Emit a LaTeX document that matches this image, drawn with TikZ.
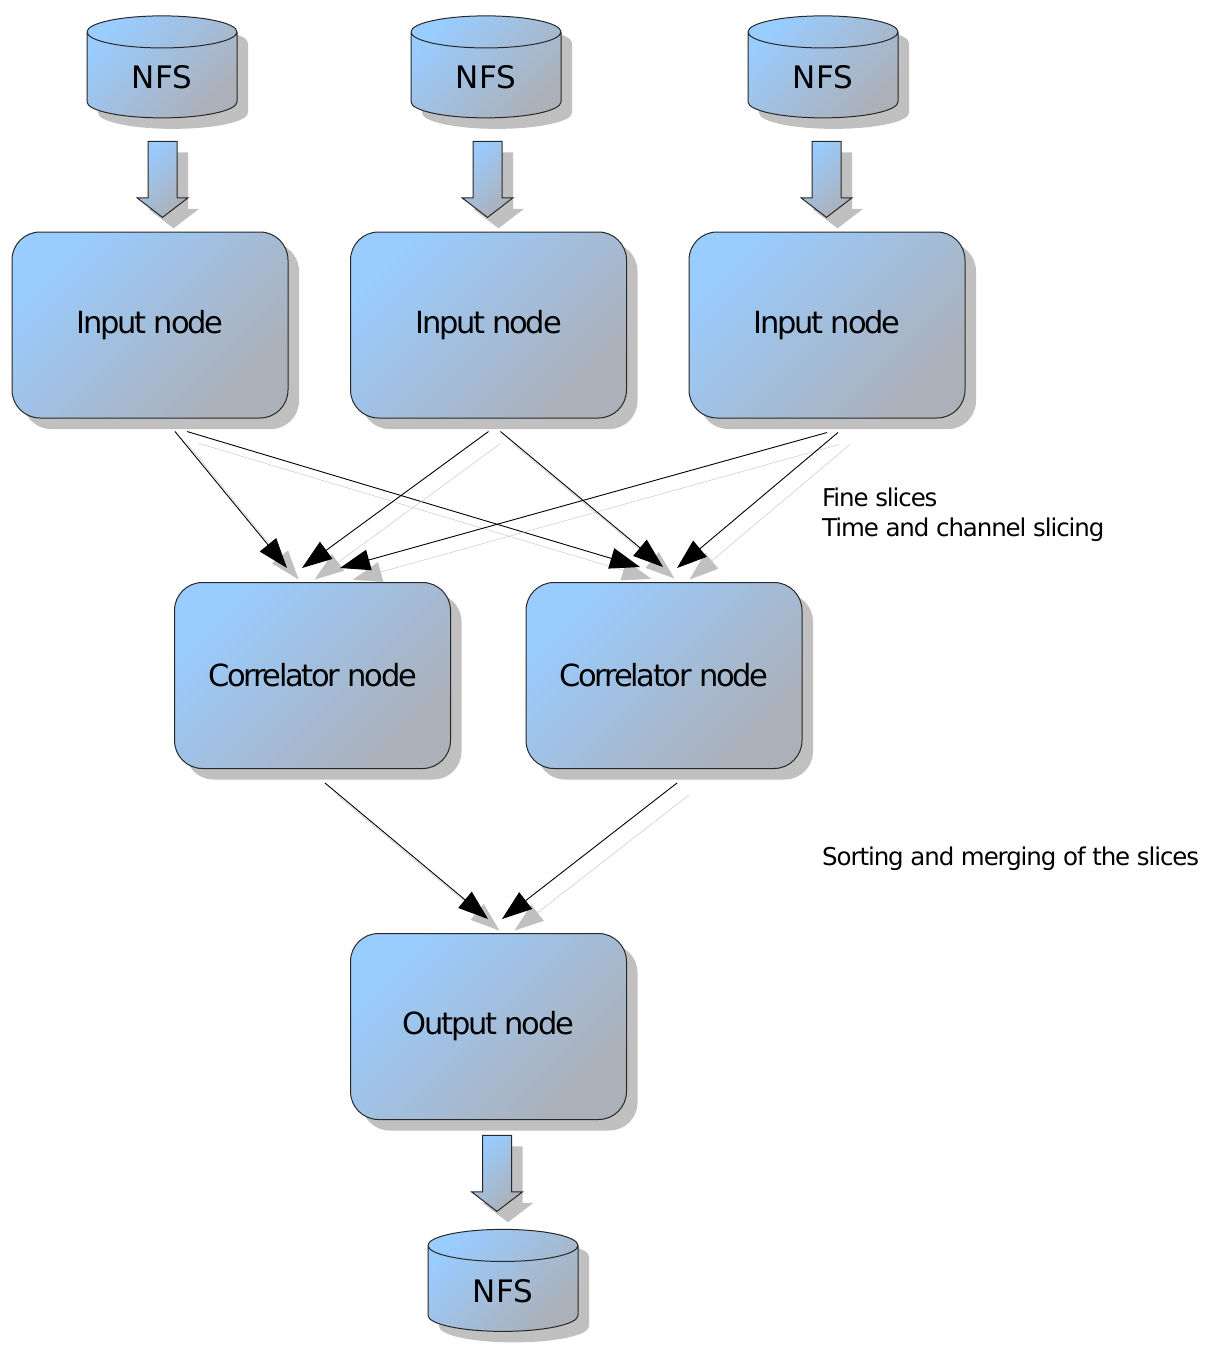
\documentclass[tikz,border=0pt]{standalone}
\usepackage{fontspec}
\setmainfont{DejaVu Sans}
\newfontfamily\labelfont{DejaVu Sans}[LetterSpace=-7.5]
\newfontfamily\notefont{DejaVu Sans}[LetterSpace=-4.5]
\usetikzlibrary{arrows.meta, shapes.geometric, shapes.arrows, shadows}
\definecolor{nodeblue}{RGB}{153,204,255}
\definecolor{nodegrey}{RGB}{172,176,184}
\definecolor{shadowgrey}{RGB}{192,192,192}
\definecolor{edgegrey}{RGB}{40,40,40}

\begin{document}
\begin{tikzpicture}[x=1pt, y=-1pt,
    shaded/.style={draw=edgegrey, line width=1pt,
                   top color=nodeblue, bottom color=nodegrey, shading angle=45,
                   drop shadow={shadow xshift=11pt, shadow yshift=-11pt,
                                fill=shadowgrey, opacity=1}},
    box/.style={shaded, rounded corners=28pt, minimum width=276pt,
                minimum height=186pt, font=\labelfont\fontsize{30.5}{37}\selectfont},
    disk/.style={shaded, cylinder, shape border rotate=90, aspect=0.48,
                 minimum width=150pt, minimum height=102pt,
                 font=\fontsize{31}{37}\selectfont},
    feed/.style={shaded, single arrow, shape border rotate=270,
                 inner xsep=14pt, inner ysep=14pt, minimum height=76pt,
                 single arrow head extend=11pt, single arrow tip angle=105},
    link/.style={-{Triangle[length=30pt, width=21pt]}, line width=0.9pt,
                 preaction={draw=shadowgrey,
                            transform canvas={shift={(12pt,-12pt)}}}},
    note/.style={align=left, inner sep=0pt,
                 font=\notefont\fontsize{24.5}{30}\selectfont}
  ]
  \useasboundingbox (0,0) rectangle (1207,1345);

  \node[disk] (nfs1) at (162,77.5) {NFS};
  \node[disk] (nfs2) at (486,77.5) {NFS};
  \node[disk] (nfs3) at (823,77.5) {NFS};

  \node[feed, anchor=tip] (feed1) at (162.5,218) {};
  \node[feed, anchor=tip] (feed2) at (487.5,218) {};
  \node[feed, anchor=tip] (feed3) at (826.5,218) {};

  \node[box] (in1) at (150,325)   {Input node};
  \node[box] (in2) at (488.5,325) {Input node};
  \node[box] (in3) at (827,325)   {Input node};

  \node[box] (cor1) at (312.5,675.5) {Correlator node};
  \node[box] (cor2) at (664,675.5)   {Correlator node};

  \node[box] (out) at (488.5,1026.5) {Output node};

  \node[feed, anchor=tip] (feed4) at (497,1212) {};
  \node[disk] (nfs4) at (503,1291) {NFS};

  \draw[link] ([xshift=25pt,yshift=-13pt]in1.south) -- ([xshift=-25.5pt,yshift=14pt]cor1.north);
  \draw[link] ([xshift=37pt,yshift=-13pt]in1.south) -- ([xshift=-24pt,yshift=15pt]cor2.north);
  \draw[link] ([xshift=0pt,yshift=-13pt]in2.south)  -- ([xshift=-10.5pt,yshift=14pt]cor1.north);
  \draw[link] ([xshift=12pt,yshift=-13pt]in2.south) -- ([xshift=-1pt,yshift=15pt]cor2.north);
  \draw[link] ([xshift=0pt,yshift=-14pt]in3.south)  -- ([xshift=27.5pt,yshift=14pt]cor1.north);
  \draw[link] ([xshift=11pt,yshift=-14pt]in3.south) -- ([xshift=13pt,yshift=14pt]cor2.north);

  \draw[link] ([xshift=12.5pt,yshift=-14pt]cor1.south) -- ([xshift=-0.5pt,yshift=14pt]out.north);
  \draw[link] ([xshift=13pt,yshift=-14pt]cor2.south)   -- ([xshift=13.5pt,yshift=14pt]out.north);

  \node[note, anchor=base west] (slicing) at (822,536) {Fine slices\\Time and channel slicing};
  \node[note, anchor=base west] (merging) at (822,865) {Sorting and merging of the slices};
\end{tikzpicture}
\end{document}
